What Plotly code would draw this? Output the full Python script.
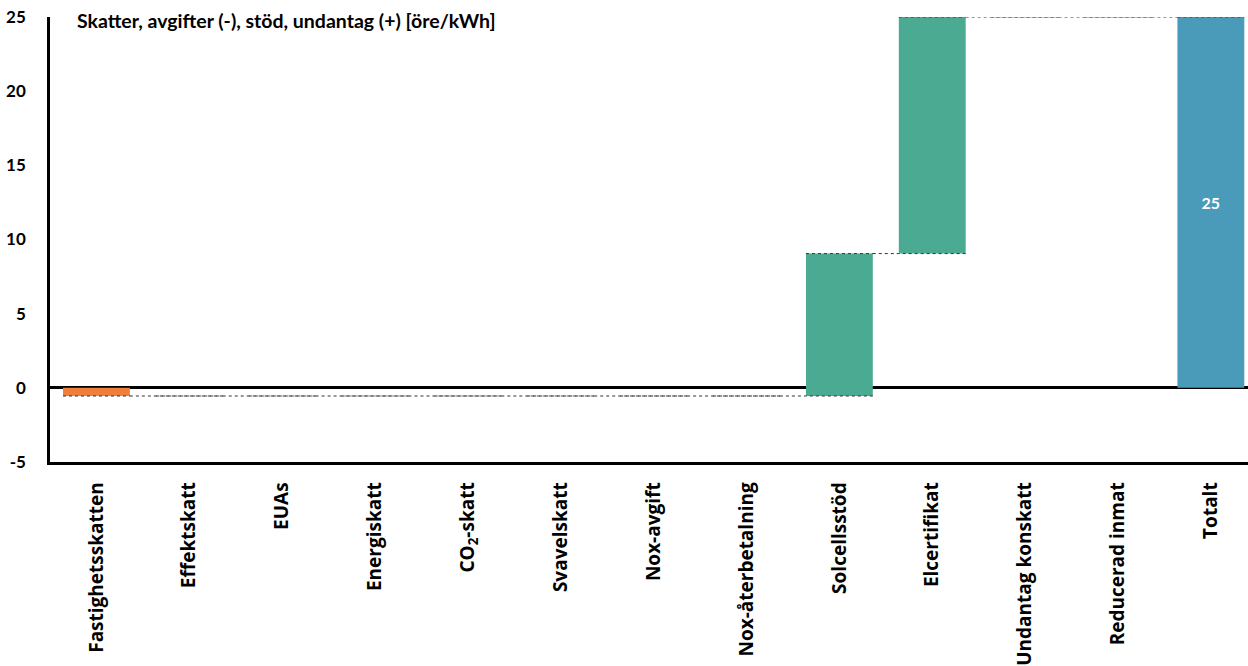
import plotly.graph_objects as go

categories = ["Fastighetsskatten", "Effektskatt", "EUAs", "Energiskatt", "CO<sub>2</sub>-skatt",
              "Svavelskatt", "Nox-avgift", "Nox-återbetalning", "Solcellsstöd", "Elcertifikat",
              "Undantag konskatt", "Reducerad inmat", "Totalt"]
values = [-0.55, 0, 0, 0, 0, 0, 0, 0, 9.6, 15.95, 0, 0, 25]
measures = ["relative"] * 12 + ["total"]
labels = [""] * 12 + ["25"]
y_ticks = [-5, 0, 5, 10, 15, 20, 25]
title_text = "Skatter, avgifter (-), stöd, undantag (+) [öre/kWh]"

TFONT = "Lato"
CFONT = "Open Sans"

fig = go.Figure(go.Waterfall(
    x=list(range(len(categories))),
    y=values,
    measure=measures,
    text=["<b>" + t + "</b>" if t else "" for t in labels],
    textposition="inside",
    insidetextanchor="middle",
    textfont=dict(family=TFONT, size=16, color="white"),
    decreasing=dict(marker=dict(color="#F07F3A")),
    increasing=dict(marker=dict(color="#4BAA92")),
    totals=dict(marker=dict(color="#4A9ABA")),
    connector=dict(mode="spanning", line=dict(color="#333333", width=1, dash="dot")),
    hoverinfo="skip",
))

fig.update_layout(
    width=1248, height=666,
    margin=dict(l=50, r=0, t=17, b=200),
    paper_bgcolor="white", plot_bgcolor="white",
    showlegend=False,
    waterfallgap=0.28,
    font=dict(family=CFONT, size=19, color="black"),
    annotations=[dict(text="<b>" + title_text + "</b>", xref="paper", yref="paper",
                      x=0.021, y=0.992, xanchor="left", yanchor="middle", showarrow=False,
                      font=dict(family=TFONT, size=19.5, color="black"))],
)
fig.update_xaxes(
    range=[-0.5, 12.4],
    tickmode="array", tickvals=list(range(len(categories))),
    ticktext=["<b>" + c + "</b>" for c in categories],
    tickangle=-90, showgrid=False, showline=True, linecolor="black", linewidth=2.5,
    ticks="", ticklabelstandoff=10,
    tickfont=dict(family=CFONT, size=19, color="black"),
)
fig.update_yaxes(
    range=[-5, 25], tickvals=y_ticks, ticktext=["<b>" + str(v) + "</b>" for v in y_ticks],
    showgrid=False,
    showline=True, linecolor="black", linewidth=2.5,
    zeroline=True, zerolinecolor="black", zerolinewidth=2.5,
    ticks="", ticklabelstandoff=18,
    tickfont=dict(family=TFONT, size=17, color="black"),
)

fig.write_html("out.html")
